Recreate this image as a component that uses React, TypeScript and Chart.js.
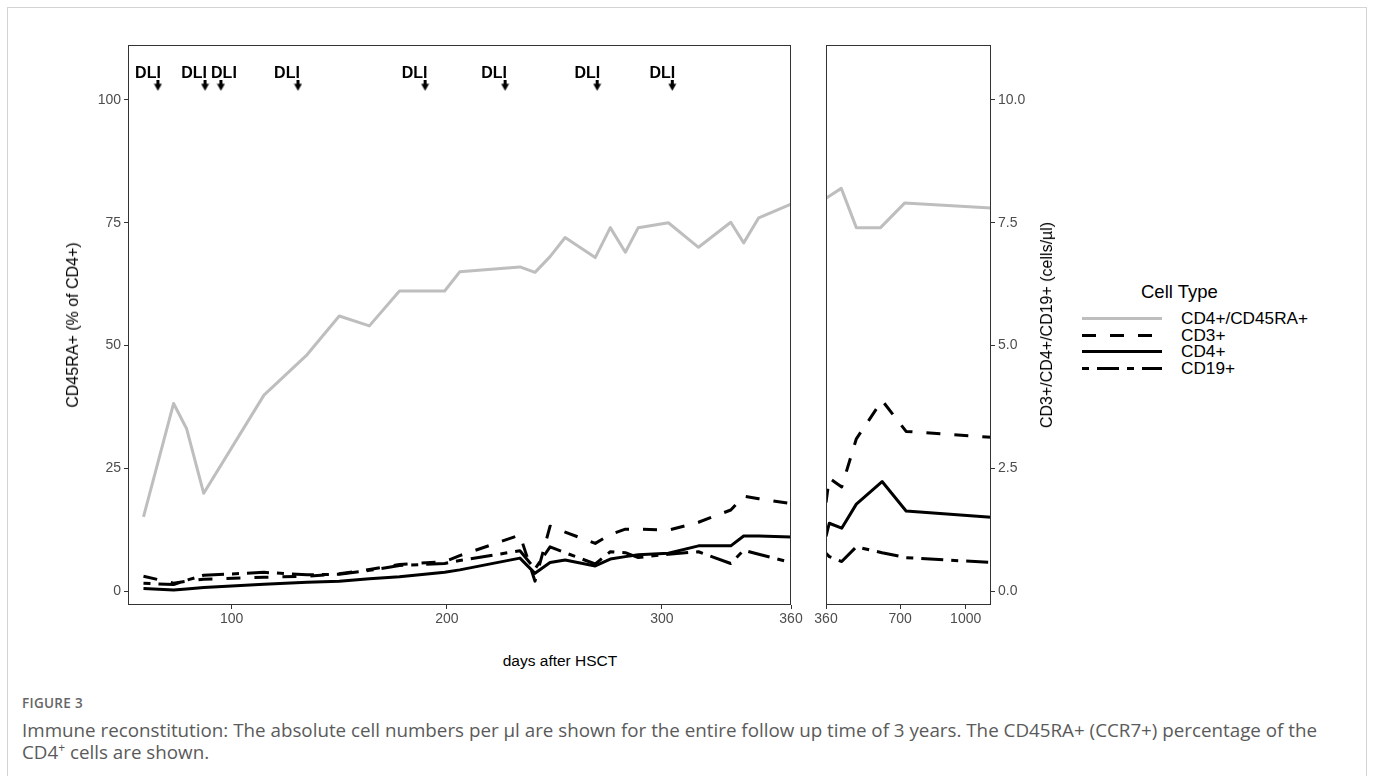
import React, { useEffect, useRef } from "react";
import { Chart, registerables } from "chart.js";
Chart.register(...registerables);

// ---------- data ----------
const earlyDays = [59, 73, 79, 87, 115, 135, 150, 164, 178, 199, 206, 234, 241, 248, 255, 269, 276, 283, 289, 303, 317, 332, 338, 345, 360];
const earlyCD45RA = [15.1, 38.2, 33.1, 19.9, 39.9, 48.1, 56, 54, 61.1, 61.1, 65, 66, 64.9, 68.1, 72, 67.9, 74, 69, 74, 75, 70, 75.1, 70.9, 76, 78.8];
const earlyCD3 = [0.30, 0.16, 0.20, 0.24, 0.28, 0.30, 0.35, 0.44, 0.54, 0.60, 0.72, 1.14, 0.20, 1.32, 1.20, 0.97, 1.15, 1.26, 1.26, 1.24, 1.40, 1.65, 1.93, 1.88, 1.78];
const earlyCD4 = [0.05, 0.02, 0.04, 0.07, 0.14, 0.18, 0.20, 0.25, 0.29, 0.38, 0.43, 0.67, 0.36, 0.58, 0.63, 0.51, 0.65, 0.70, 0.74, 0.77, 0.92, 0.92, 1.12, 1.12, 1.10];
const earlyCD19 = [0.16, 0.13, 0.22, 0.32, 0.38, 0.33, 0.34, 0.42, 0.52, 0.56, 0.62, 0.82, 0.45, 0.90, 0.78, 0.55, 0.80, 0.78, 0.68, 0.75, 0.80, 0.56, 0.83, 0.75, 0.58];

const lateDays = [360, 375, 432, 499, 617, 727, 1116];
const lateCD3 = [1.80, 2.30, 2.12, 3.10, 3.88, 3.25, 3.13];
const lateCD4 = [1.11, 1.38, 1.28, 1.77, 2.23, 1.63, 1.50];
const lateCD19 = [0.77, 0.70, 0.60, 0.90, 0.78, 0.68, 0.58];
const lateRADays = [360, 430, 499, 610, 720, 1116];
const lateCD45RA = [80, 82, 74, 74, 79, 78];

const dliArrowDays = [65.7, 87.6, 95.0, 130.8, 189.9, 227.1, 269.9, 304.8];
const dliLabelDays = [61.1, 82.5, 96.4, 125.7, 185.0, 222.0, 265.3, 300.2];
const dliArrowLevel = 102.9;
const dliLabelLevel = 105.3;

const leftXTicks = [100, 200, 300, 360];
const rightXTicks = [360, 700, 1000];
const pctTicks = [0, 25, 50, 75, 100];
const cellTicks = [0, 2.5, 5, 7.5, 10];

const seriesNames = ["CD4+/CD45RA+", "CD3+", "CD4+", "CD19+"];
const seriesColors = ["#bebebe", "#000000", "#000000", "#000000"];
const seriesDash: number[][] = [[], [14, 14], [], [7, 8, 22, 8]];

// ---------- style ----------
const FONT = '"Liberation Sans", Arial, sans-serif';
const TICK_COLOR = "#4d4d4d";
const pctRange = { min: -2.85, max: 111.2 };
const cellRange = { min: -0.285, max: 11.12 };

function pts(xs: number[], ys: number[]) {
  return xs.map((x, i) => ({ x, y: ys[i] }));
}

function makeArrowImage() {
  const c = document.createElement("canvas");
  c.width = 9;
  c.height = 11;
  const g = c.getContext("2d")!;
  g.fillStyle = "#000";
  g.fillRect(3, 0, 3, 4);
  g.beginPath();
  g.moveTo(0.5, 3.5);
  g.lineTo(8.5, 3.5);
  g.lineTo(4.5, 10.5);
  g.closePath();
  g.fill();
  return c;
}

const framePlugin = {
  id: "frame",
  afterDraw(chart: any) {
    const { ctx, chartArea: a } = chart;
    ctx.save();
    ctx.strokeStyle = "#333333";
    ctx.lineWidth = 1;
    ctx.strokeRect(Math.round(a.left) + 0.5, Math.round(a.top) + 0.5, Math.round(a.right - a.left) - 1, Math.round(a.bottom - a.top) - 1);
    ctx.restore();
  },
};

const dliPlugin = {
  id: "dliLabels",
  afterDatasetsDraw(chart: any) {
    const { ctx } = chart;
    const xs = chart.scales.x;
    const ys = chart.scales.y;
    ctx.save();
    ctx.fillStyle = "#000";
    ctx.font = `bold 16px ${FONT}`;
    ctx.textAlign = "center";
    ctx.textBaseline = "middle";
    dliLabelDays.forEach((d) => {
      ctx.fillText("DLI", xs.getPixelForValue(d), ys.getPixelForValue(dliLabelLevel));
    });
    ctx.restore();
  },
};

function lineDs(i: number, data: any[], axis: string) {
  return {
    label: seriesNames[i],
    data,
    yAxisID: axis,
    borderColor: seriesColors[i],
    backgroundColor: seriesColors[i],
    borderWidth: 3,
    borderDash: seriesDash[i],
    borderCapStyle: "butt",
    borderJoinStyle: "round",
    pointRadius: 0,
    tension: 0,
    fill: false,
  };
}

function xAxis(min: number, max: number, ticks: number[]) {
  return {
    type: "linear",
    min,
    max,
    afterBuildTicks: (s: any) => {
      s.ticks = ticks.map((v) => ({ value: v }));
    },
    afterFit: (s: any) => {
      s.height = 35;
    },
    ticks: { font: { family: FONT, size: 14 }, color: TICK_COLOR, padding: 2, maxRotation: 0, autoSkip: false, callback: (v: any) => String(v) },
    grid: { drawOnChartArea: false, drawTicks: true, tickLength: 4, color: "#333", tickColor: "#333" },
    border: { display: false },
  };
}

function LeftPanel() {
  const ref = useRef<HTMLCanvasElement>(null);
  useEffect(() => {
    const arrow = makeArrowImage();
    const chart = new Chart(ref.current!, {
      type: "line",
      data: {
        datasets: [
          lineDs(0, pts(earlyDays, earlyCD45RA), "y"),
          lineDs(1, pts(earlyDays, earlyCD3), "yc"),
          lineDs(2, pts(earlyDays, earlyCD4), "yc"),
          lineDs(3, pts(earlyDays, earlyCD19), "yc"),
          {
            type: "scatter",
            label: "DLI",
            data: dliArrowDays.map((d) => ({ x: d, y: dliArrowLevel })),
            yAxisID: "y",
            pointStyle: arrow,
            pointRadius: 5,
            showLine: false,
          },
        ] as any,
      },
      options: {
        animation: false,
        responsive: false,
        devicePixelRatio: 1,
        layout: { padding: { top: 45, right: 19, bottom: 0, left: 0 } },
        plugins: { legend: { display: false }, tooltip: { enabled: false } },
        scales: {
          x: xAxis(51.8, 360, leftXTicks),
          y: {
            type: "linear",
            position: "left",
            min: pctRange.min,
            max: pctRange.max,
            afterBuildTicks: (s: any) => {
              s.ticks = pctTicks.map((v) => ({ value: v }));
            },
            afterFit: (s: any) => {
              s.width = 128;
            },
            ticks: { font: { family: FONT, size: 14 }, color: TICK_COLOR, padding: 3, callback: (v: any) => String(v) },
            grid: { drawOnChartArea: false, drawTicks: true, tickLength: 4, color: "#333", tickColor: "#333" },
            border: { display: false },
          },
          yc: { type: "linear", display: false, min: cellRange.min, max: cellRange.max },
        },
      } as any,
      plugins: [framePlugin, dliPlugin],
    });
    return () => chart.destroy();
  }, []);
  return <canvas ref={ref} width={810} height={640} style={{ position: "absolute", left: 0, top: 0 }} />;
}

function RightPanel() {
  const ref = useRef<HTMLCanvasElement>(null);
  useEffect(() => {
    const chart = new Chart(ref.current!, {
      type: "line",
      data: {
        datasets: [
          lineDs(0, pts(lateRADays, lateCD45RA), "yp"),
          lineDs(1, pts(lateDays, lateCD3), "y"),
          lineDs(2, pts(lateDays, lateCD4), "y"),
          lineDs(3, pts(lateDays, lateCD19), "y"),
        ] as any,
      },
      options: {
        animation: false,
        responsive: false,
        devicePixelRatio: 1,
        layout: { padding: { top: 45, right: 0, bottom: 0, left: 20 } },
        plugins: { legend: { display: false }, tooltip: { enabled: false } },
        scales: {
          x: xAxis(360, 1116, rightXTicks),
          y: {
            type: "linear",
            position: "right",
            min: cellRange.min,
            max: cellRange.max,
            afterBuildTicks: (s: any) => {
              s.ticks = cellTicks.map((v) => ({ value: v }));
            },
            afterFit: (s: any) => {
              s.width = 69;
            },
            ticks: { font: { family: FONT, size: 14 }, color: TICK_COLOR, padding: 3, callback: (v: any) => Number(v).toFixed(1) },
            grid: { drawOnChartArea: false, drawTicks: true, tickLength: 4, color: "#333", tickColor: "#333" },
            border: { display: false },
          },
          yp: { type: "linear", display: false, min: pctRange.min, max: pctRange.max },
        },
      } as any,
      plugins: [framePlugin],
    });
    return () => chart.destroy();
  }, []);
  return <canvas ref={ref} width={254} height={640} style={{ position: "absolute", left: 806, top: 0 }} />;
}

function Legend() {
  return (
    <div style={{ position: "absolute", left: 1080, top: 282, fontFamily: FONT, color: "#000" }}>
      <div style={{ position: "absolute", left: 61, top: 0, fontSize: 18.5, lineHeight: "20px", whiteSpace: "nowrap" }}>Cell Type</div>
      {seriesNames.map((name, i) => (
        <div key={name} style={{ position: "absolute", left: 0, top: 28 + i * 16.7, height: 17, whiteSpace: "nowrap" }}>
          <svg width={84} height={17} style={{ position: "absolute", left: 0, top: 0 }}>
            <line x1={2} y1={8.5} x2={82} y2={8.5} stroke={seriesColors[i]} strokeWidth={3} strokeDasharray={seriesDash[i].length ? seriesDash[i].join(",") : undefined} />
          </svg>
          <span style={{ position: "absolute", left: 101, top: -1, fontSize: 17.2, lineHeight: "18px" }}>{name}</span>
        </div>
      ))}
    </div>
  );
}

const rotTitle: any = {
  position: "absolute",
  top: 325,
  transform: "translate(-50%, -50%) rotate(-90deg)",
  fontFamily: FONT,
  fontSize: 16,
  whiteSpace: "nowrap",
  color: "#000",
};

export default function App() {
  useEffect(() => {
    document.body.style.margin = "0";
  }, []);
  return (
    <div style={{ position: "absolute", left: 0, top: 0, width: 1373, height: 776, background: "#fff", overflow: "hidden" }}>
      <div style={{ position: "absolute", left: 7, top: 7, width: 1358, height: 800, border: "1px solid #d4d4d4" }} />
      <LeftPanel />
      <RightPanel />
      <div style={{ ...rotTitle, left: 73 }}>CD45RA+ (% of CD4+)</div>
      <div style={{ ...rotTitle, left: 1047 }}>CD3+/CD4+/CD19+ (cells/µl)</div>
      <div
        style={{
          position: "absolute",
          left: 560,
          top: 661,
          transform: "translate(-50%, -50%)",
          fontFamily: FONT,
          fontSize: 15.5,
          whiteSpace: "nowrap",
          color: "#000",
        }}
      >
        days after HSCT
      </div>
      <Legend />
      <div style={{ position: "absolute", left: 22, top: 694, fontFamily: '"Open Sans", sans-serif', fontSize: 13.5, fontWeight: 600, color: "#666", letterSpacing: 0.3 }}>
        FIGURE 3
      </div>
      <div style={{ position: "absolute", left: 22, top: 719, fontFamily: '"Open Sans", sans-serif', fontSize: 18.8, lineHeight: "22px", color: "#5a5a5a", whiteSpace: "nowrap" }}>
        Immune reconstitution: The absolute cell numbers per µl are shown for the entire follow up time of 3 years. The CD45RA+ (CCR7+) percentage of the
        <br />
        CD4<sup style={{ fontSize: 12, lineHeight: 0 }}>+</sup> cells are shown.
      </div>
    </div>
  );
}
